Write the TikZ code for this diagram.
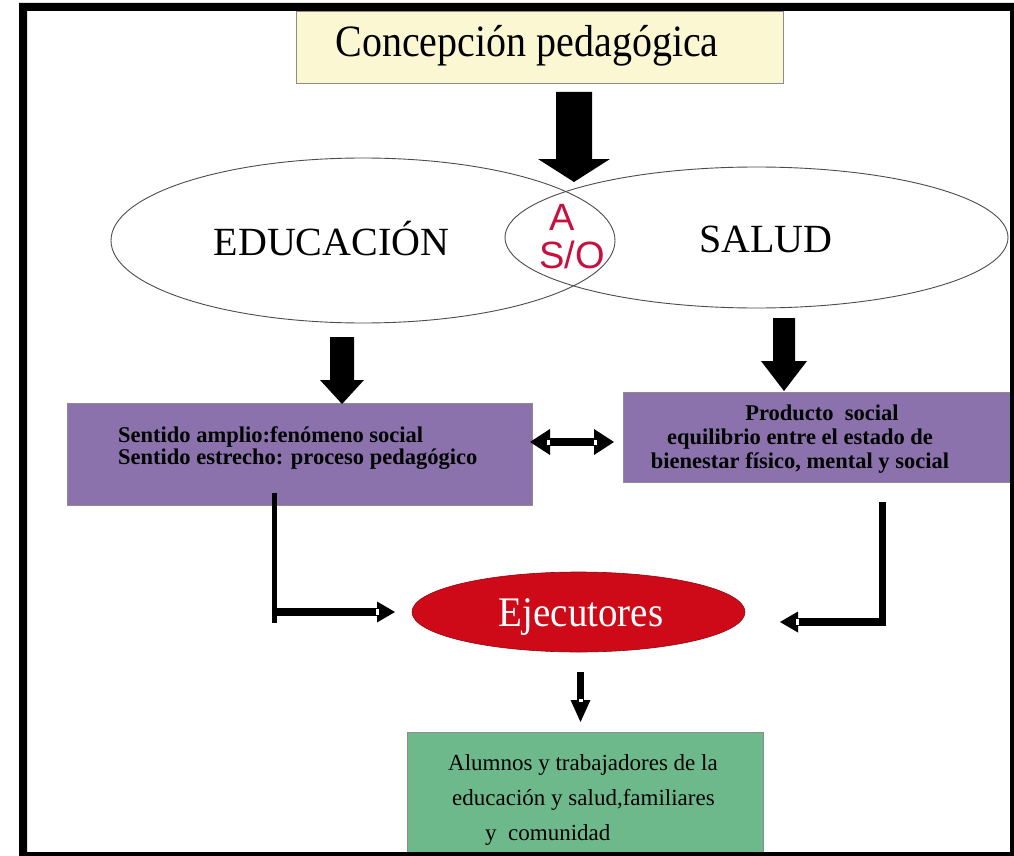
\documentclass[tikz,border=0pt]{standalone}
\usepackage{fontspec}
\setmainfont{Liberation Serif}
\newfontfamily\arialf{Liberation Sans}
\usetikzlibrary{shapes.geometric,calc}
\definecolor{titlefill}{RGB}{250,247,210}
\definecolor{purp}{RGB}{139,114,172}
\definecolor{grn}{RGB}{110,185,140}
\definecolor{redE}{RGB}{206,10,24}
\definecolor{crim}{RGB}{200,16,62}
\newcommand{\blkdown}[5]{%
  \fill let \p1=(#1), \p2=(#2) in
    (\x1-#3,\y1) -- (\x1+#3,\y1) -- (\x1+#3,\y2+#5) -- (\x1+#4,\y2+#5) --
    (\x2,\y2) -- (\x1-#4,\y2+#5) -- (\x1-#3,\y2+#5) -- cycle;}
\begin{document}
\begin{tikzpicture}[x=1pt,y=-1pt,
  ell/.style={ellipse, draw=black!70, line width=0.9pt, inner sep=0pt},
  boxp/.style={draw=black!45, line width=0.6pt, fill=purp, inner sep=0pt},
  lbl/.style={inner sep=0pt, anchor=base},
  notch/.style={fill=white}]
\useasboundingbox (0,0) rectangle (1014,856);
\fill[white] (0,0) rectangle (1014,856);

% title
\node[draw=black!45, line width=0.6pt, fill=titlefill, minimum width=487pt, minimum height=72pt, inner sep=0pt] (title) at (539.5,47) {};
\node[lbl, font=\fontsize{40}{48}\selectfont] (titletxt) at (527,57) {\scalebox{1}[1.12]{Concepción pedagógica}};

% ellipses
\node[ell, minimum width=504pt, minimum height=165pt] (edu) at (363,240.5) {};
\node[ell, minimum width=503pt, minimum height=141pt] (sal) at (756.5,237.5) {};
\node[lbl, font=\fontsize{40}{48}\selectfont] (edutxt) at (331.5,255) {EDUCACIÓN};
\node[lbl, font=\fontsize{40}{48}\selectfont] (saltxt) at (766,252) {SALUD};
\node[lbl, text=crim, font=\arialf\fontsize{38}{44}\selectfont] (atxt) at (562,230) {A};
\node[lbl, text=crim, font=\arialf\fontsize{38}{44}\selectfont] (sotxt) at (572,268) {S/O};

% big arrow title -> ellipses
\coordinate (a1s) at (574,92);
\coordinate (a1e) at (574,182);
\blkdown{a1s}{a1e}{18pt}{36pt}{23pt}

% purple boxes
\node[boxp, minimum width=465pt, minimum height=102pt] (lbox) at (299.5,454) {};
\node[inner sep=0pt, anchor=west, align=left, font=\bfseries\fontsize{22.5}{20}\selectfont] (ltxt) at (118,448)
  {Sentido amplio:fenómeno social\\Sentido estrecho: proceso pedagógico};
\node[boxp, minimum width=389pt, minimum height=90pt] (rbox) at (817.5,437) {};
\node[inner sep=0pt, align=center, font=\bfseries\fontsize{22.5}{24}\selectfont] (rtxt) at (800,439)
  {\hspace*{44pt}Producto\ \ social\\equilibrio entre el estado de\\bienestar físico, mental y social};

% arrows ellipses -> boxes
\coordinate (a2s) at (342,337);
\coordinate (a2e) at (342,404);
\blkdown{a2s}{a2e}{12pt}{22pt}{24pt}
\coordinate (a3s) at (784,318);
\coordinate (a3e) at (784,391);
\blkdown{a3s}{a3e}{11pt}{23pt}{30pt}

% double arrow between boxes
\coordinate (dl) at (530,442);
\coordinate (dr) at (614,442);
\draw[line width=8pt] ($(dl)+(18,0)$) -- ($(dr)+(-18,0)$);
\fill (dl) -- ($(dl)+(20,-13)$) -- ($(dl)+(20,13)$) -- cycle;
\fill (dr) -- ($(dr)+(-20,-13)$) -- ($(dr)+(-20,13)$) -- cycle;
\fill[notch] ($(dl)+(17,-2.5)$) rectangle ($(dl)+(20,2.5)$);
\fill[notch] ($(dr)+(-20,-2.5)$) rectangle ($(dr)+(-17,2.5)$);

% Ejecutores
\node[ellipse, fill=redE, draw=redE!70!black, line width=0.6pt, minimum width=333pt, minimum height=80pt, inner sep=0pt] (ejec) at (578.5,612) {};
\node[lbl, text=white, font=\fontsize{39}{46}\selectfont] (ejtxt) at (581,626) {\scalebox{1}[1.08]{Ejecutores}};

% left L arrow
\coordinate (lv1) at (274,493);
\coordinate (lv2) at (274,623);
\coordinate (lh1) at (274,612);
\coordinate (lhtip) at (395,612);
\draw[line width=5pt] (lv1) -- (lv2);
\draw[line width=8pt] (lh1) -- ($(lhtip)+(-17,0)$);
\fill (lhtip) -- ($(lhtip)+(-18,-10.5)$) -- ($(lhtip)+(-18,10.5)$) -- cycle;
\fill[notch] ($(lhtip)+(-19,-3)$) rectangle ($(lhtip)+(-16,3)$);

% right L arrow
\coordinate (rv1) at (882,502);
\coordinate (rv2) at (882,626);
\coordinate (rh1) at (885,622);
\coordinate (rhtip) at (780,622);
\draw[line width=7pt] (rv1) -- (rv2);
\draw[line width=8pt] (rh1) -- ($(rhtip)+(17,0)$);
\fill (rhtip) -- ($(rhtip)+(18,-10.5)$) -- ($(rhtip)+(18,10.5)$) -- cycle;
\fill[notch] ($(rhtip)+(16,-3)$) rectangle ($(rhtip)+(19,3)$);

% green box
\node[draw=black!45, line width=0.6pt, fill=grn, minimum width=356pt, minimum height=138pt, inner sep=0pt] (gbox) at (585,801) {};
\node[inner sep=0pt, anchor=west, align=left, font=\fontsize{23}{35}\selectfont] (gtxt) at (448,799.5)
  {Alumnos y trabajadores de la\\\hspace*{4pt}educación y salud,familiares\\\hspace*{37pt}y\ \ comunidad};

% small down arrow
\coordinate (sds) at (580.5,672);
\coordinate (sde) at (580.5,722);
\draw[line width=7pt] (sds) -- ($(sde)+(0,-21)$);
\fill (sde) -- ($(sde)+(-10,-22)$) -- ($(sde)+(10,-22)$) -- cycle;
\fill[notch] ($(sde)+(-2,-23)$) rectangle ($(sde)+(2,-20)$);

% frame
\fill[black, even odd rule] (19,3) rectangle (1014,856) (27,11) rectangle (1010,852);
\end{tikzpicture}
\end{document}
